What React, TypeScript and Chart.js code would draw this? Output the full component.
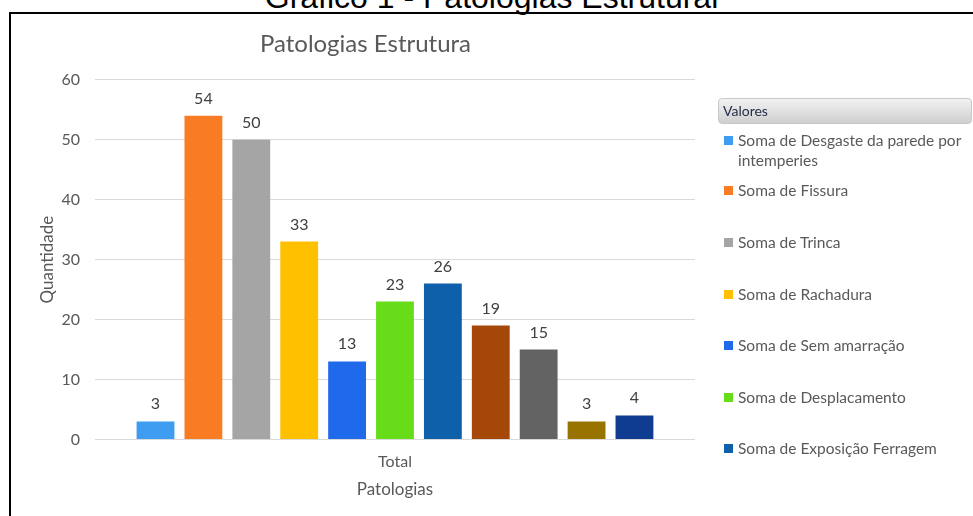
import React, { useEffect, useRef } from "react";
import { Chart, registerables } from "chart.js";

Chart.register(...registerables);

const pageHeading = "Gráfico 1 - Patologias Estrutural";
const chartTitle = "Patologias Estrutura";
const categories = ["Total"];
const xAxisTitle = "Patologias";
const yAxisTitle = "Quantidade";
const legendHeader = "Valores";
const seriesNames = [
  "Soma de Desgaste da parede por intemperies",
  "Soma de Fissura",
  "Soma de Trinca",
  "Soma de Rachadura",
  "Soma de Sem amarração",
  "Soma de Desplacamento",
  "Soma de Exposição Ferragem",
  "Soma de Outros 1",
  "Soma de Outros 2",
  "Soma de Outros 3",
  "Soma de Outros 4",
];
const seriesValues = [3, 54, 50, 33, 13, 23, 26, 19, 15, 3, 4];
const seriesColors = [
  "#3E9CF1",
  "#F97B24",
  "#A5A5A5",
  "#FFC000",
  "#1E6AEB",
  "#67DD1A",
  "#0F60AB",
  "#A6470A",
  "#636363",
  "#997300",
  "#0F3B90",
];
const yMin = 0;
const yMax = 60;
const yStep = 10;
const legendVisibleCount = 7;

const FONT = "Lato, 'Open Sans', sans-serif";
const TEXT = "#595959";

const dataLabelPlugin = {
  id: "dataLabels",
  afterDatasetsDraw(chart: any) {
    const ctx = chart.ctx;
    ctx.save();
    ctx.font = `16px ${FONT}`;
    ctx.fillStyle = "#404040";
    ctx.textAlign = "center";
    ctx.textBaseline = "alphabetic";
    chart.data.datasets.forEach((ds: any, i: number) => {
      const meta = chart.getDatasetMeta(i);
      meta.data.forEach((el: any, j: number) => {
        ctx.fillText(String(ds.data[j]), el.x, el.y - 12);
      });
    });
    ctx.restore();
  },
};

export default function App() {
  const canvasRef = useRef<HTMLCanvasElement | null>(null);

  useEffect(() => {
    if (!canvasRef.current) return;
    const chart = new Chart(canvasRef.current, {
      type: "bar",
      data: {
        labels: categories,
        datasets: seriesNames.map((name, i) => ({
          label: name,
          data: [seriesValues[i]],
          backgroundColor: seriesColors[i],
          borderWidth: 0,
          categoryPercentage: 0.878,
          barPercentage: 0.79,
        })),
      },
      options: {
        responsive: false,
        animation: false,
        devicePixelRatio: 1,
        layout: { padding: { left: 36, right: 278, top: 20, bottom: 16 } },
        plugins: {
          legend: { display: false },
          tooltip: { enabled: false },
          title: {
            display: true,
            text: chartTitle,
            color: TEXT,
            font: { family: FONT, size: 24, weight: "normal" },
            padding: { top: 10, bottom: 21 },
          },
        },
        scales: {
          x: {
            grid: { display: false, drawTicks: false },
            border: { display: false },
            ticks: { color: TEXT, font: { family: FONT, size: 16 }, padding: 13 },
            title: {
              display: true,
              text: xAxisTitle,
              color: TEXT,
              font: { family: FONT, size: 17 },
              padding: { top: -5, bottom: 0 },
            },
          },
          y: {
            min: yMin,
            max: yMax,
            ticks: {
              stepSize: yStep,
              color: TEXT,
              font: { family: FONT, size: 16 },
              padding: 15,
            },
            grid: { color: "#D9D9D9", drawTicks: false },
            border: { display: false },
            title: {
              display: true,
              text: yAxisTitle,
              color: TEXT,
              font: { family: FONT, size: 17 },
              padding: { top: 1, bottom: -11 },
            },
          },
        },
      },
      plugins: [dataLabelPlugin],
    });
    return () => chart.destroy();
  }, []);

  const legendTops = [130, 180, 232, 284, 335, 387, 438];

  return (
    <div
      style={{
        position: "fixed",
        left: 0,
        top: 0,
        width: 973,
        height: 516,
        background: "#fff",
        overflow: "hidden",
        fontFamily: FONT,
      }}
    >
      <div
        style={{
          position: "absolute",
          left: 5,
          top: -21,
          width: 973,
          textAlign: "center",
          fontFamily: "'Liberation Sans', Arial, sans-serif",
          fontSize: 32,
          lineHeight: "normal",
          color: "#000",
          whiteSpace: "nowrap",
        }}
      >
        {pageHeading}
      </div>
      <div
        style={{
          position: "absolute",
          left: 9,
          top: 12,
          width: 973 - 9,
          height: 516 - 12,
          borderTop: "2px solid #000",
          borderLeft: "2px solid #000",
          boxSizing: "border-box",
        }}
      />
      <canvas
        ref={canvasRef}
        width={973}
        height={516}
        style={{ position: "absolute", left: 0, top: 0 }}
      />
      <div
        style={{
          position: "absolute",
          left: 718,
          top: 98,
          width: 254,
          height: 26,
          borderRadius: 4,
          background: "linear-gradient(#f2f2f2, #cfcfcf)",
          border: "1px solid #c8c8c8",
          boxSizing: "border-box",
          fontSize: 14,
          color: "#1F2A44",
          paddingLeft: 4,
          lineHeight: "24px",
        }}
      >
        {legendHeader}
      </div>
      {seriesNames.slice(0, legendVisibleCount).map((name, i) => (
        <div
          key={name}
          style={{
            position: "absolute",
            left: 724,
            top: legendTops[i],
            width: 248,
            display: "flex",
            alignItems: "flex-start",
            fontSize: 15.5,
            lineHeight: "20px",
            color: TEXT,
          }}
        >
          <span
            style={{
              display: "inline-block",
              width: 9,
              height: 9,
              marginTop: 6,
              marginRight: 5,
              flex: "0 0 auto",
              background: seriesColors[i],
            }}
          />
          <span>{name}</span>
        </div>
      ))}
    </div>
  );
}
